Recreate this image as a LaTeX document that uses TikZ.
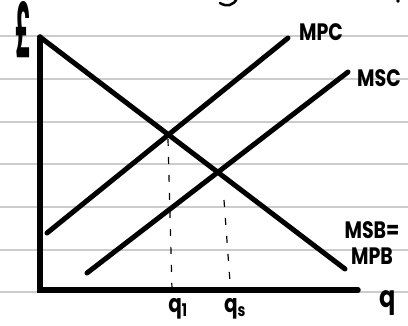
\documentclass[tikz,border=0pt]{standalone}
\usepackage{fontspec}
\setmainfont{Poppins}
\tikzstyle{curve}=[line width=5pt, line cap=round]
\tikzstyle{axis}=[line width=5.5pt, line cap=round]
\tikzstyle{guide}=[line width=1.2pt, dash pattern=on 7pt off 11pt]
\tikzstyle{rule}=[line width=1.6pt, color=black!20]
\tikzstyle{lbl}=[font=\bfseries\fontsize{19}{21}\selectfont, inner sep=0pt, align=center, yscale=1.25]
\begin{document}
\begin{tikzpicture}[x=1pt,y=-1pt]
\useasboundingbox (0,0) rectangle (408,325);
\foreach \y in {36,79,122,164,207,250,292} \draw[rule] (0,\y) -- (408,\y);
% bits of the title above
\draw[line width=2.5pt, line cap=round] (237,-2) .. controls (234,6) and (226,7) .. (220,3);
\fill (398,1) circle (1.8pt);
% axes
\coordinate (top) at (40,37);
\coordinate (O) at (40,290);
\coordinate (xend) at (358,290);
\draw[axis] (top) -- (O) -- (xend);
% curves
\coordinate (msbA) at (40,37);
\coordinate (msbB) at (345,269);
\coordinate (mpcA) at (47,233);
\coordinate (mpcB) at (288,38);
\coordinate (mscA) at (87,273);
\coordinate (mscB) at (348,72);
\draw[curve] (msbA) -- (msbB);
\draw[curve] (mpcA) -- (mpcB);
\draw[curve] (mscA) -- (mscB);
% dashed drops
\coordinate (e1) at (168,139);
\coordinate (e1b) at (172,290);
\coordinate (es) at (224,200);
\coordinate (esb) at (230,282);
\draw[guide] (e1) -- (e1b);
\draw[guide] (es) -- (esb);
% labels
\node[lbl, font=\bfseries\fontsize{40}{40}\selectfont, xscale=0.6, yscale=1.5] (P) at (23,30) {£};
\node[lbl, anchor=west] (MPC) at (299,32) {MPC};
\node[lbl, anchor=west] (MSC) at (357,78) {MSC};
\node[lbl] (MSB) at (372,243) {MSB=\\MPB};
\node[lbl, font=\bfseries\fontsize{24}{24}\selectfont] (q) at (388,303) {q};
\node[lbl, font=\bfseries\fontsize{20}{20}\selectfont] (q1) at (178,309) {q\textsubscript{1}};
\node[lbl, font=\bfseries\fontsize{20}{20}\selectfont] (qs) at (235,309) {q\textsubscript{s}};
\end{tikzpicture}
\end{document}
